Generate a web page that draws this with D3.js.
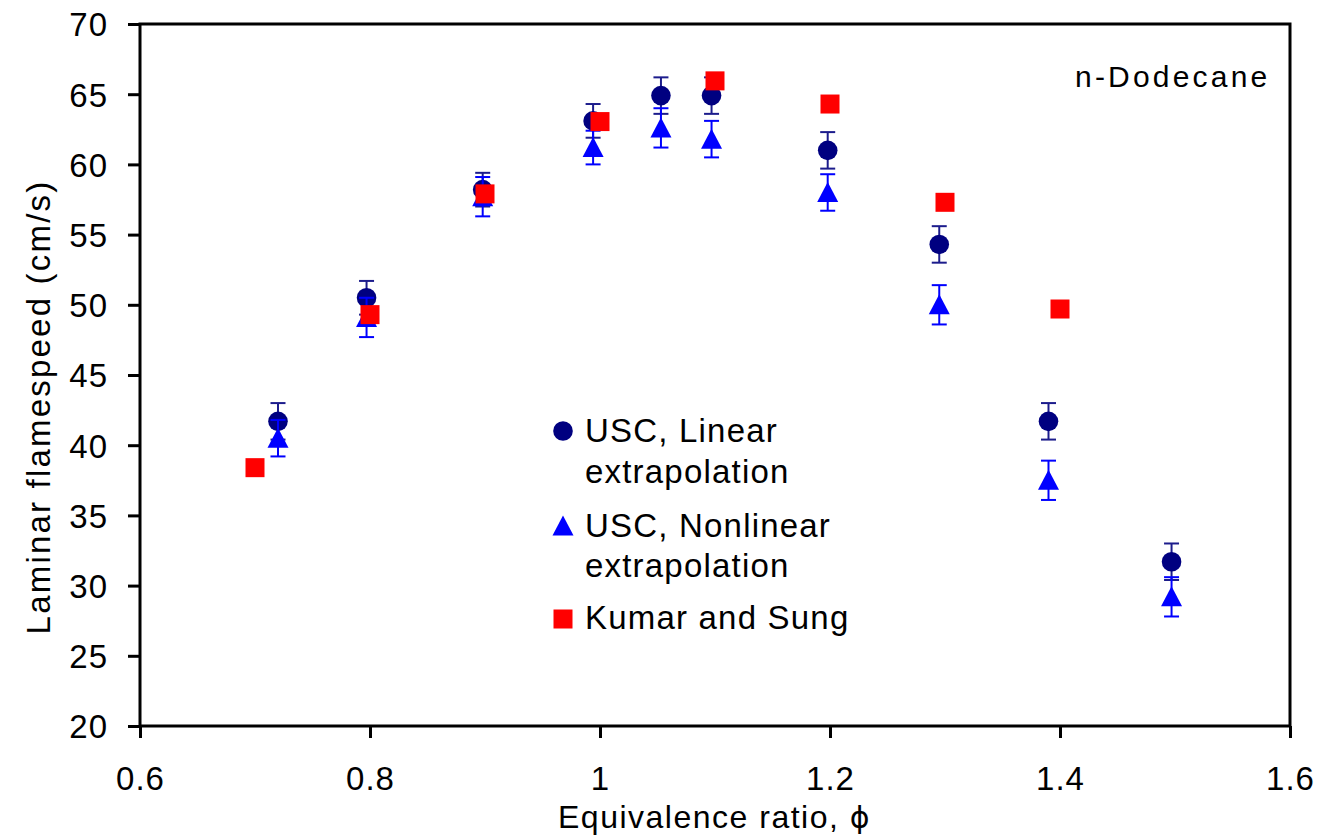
<!DOCTYPE html>
<html>
<head>
<meta charset="utf-8">
<script src="https://cdn.jsdelivr.net/npm/d3@7"></script>
<style>
  html, body { margin: 0; padding: 0; background: #fff; }
  svg { display: block; font-family: "Liberation Sans", Arial, sans-serif; }
</style>
</head>
<body>
<svg id="chart" width="1317" height="835"></svg>
<script>
// Laminar flame speed of n-dodecane vs. equivalence ratio
const phiLinear = [0.72, 0.797, 0.898, 0.994, 1.053, 1.097, 1.198, 1.295, 1.390, 1.497];
const speedLinear = [41.7, 50.5, 58.2, 63.1, 64.9, 64.9, 61.0, 54.3, 41.7, 31.7];
const errLinear = [1.3, 1.2, 1.2, 1.2, 1.3, 1.3, 1.3, 1.3, 1.3, 1.3];

const phiNonlinear = [0.72, 0.797, 0.898, 0.994, 1.053, 1.097, 1.198, 1.295, 1.390, 1.497];
const speedNonlinear = [40.5, 49.1, 57.7, 61.2, 62.6, 61.8, 58.0, 50.0, 37.5, 29.2];
const errNonlinear = [1.3, 1.4, 1.4, 1.2, 1.4, 1.3, 1.3, 1.4, 1.4, 1.4];

const phiKumar = [0.7, 0.8, 0.9, 1.0, 1.1, 1.2, 1.3, 1.4];
const speedKumar = [38.4, 49.3, 57.9, 63.05, 65.95, 64.3, 57.3, 49.7];

const xTicks = [0.6, 0.8, 1.0, 1.2, 1.4, 1.6];
const xTickLabels = ["0.6", "0.8", "1", "1.2", "1.4", "1.6"];
const yTicks = [20, 25, 30, 35, 40, 45, 50, 55, 60, 65, 70];

const legendLabels = [
  ["USC, Linear", "extrapolation"],
  ["USC, Nonlinear", "extrapolation"],
  ["Kumar and Sung"]
];

const NAVY = "#000080", BLUE = "#0000ff", RED = "#ff0000";

const svg = d3.select("#chart");
const plotLeft = 140, plotRight = 1290, plotTop = 24, plotBottom = 726;

const x = d3.scaleLinear().domain([0.6, 1.6]).range([plotLeft, plotRight]);
const y = d3.scaleLinear().domain([20, 70]).range([plotBottom, plotTop]);

// axes
const xAxis = d3.axisBottom(x).tickValues(xTicks)
  .tickFormat((d, i) => xTickLabels[i]).tickSize(12).tickSizeOuter(0).tickPadding(29);
const yAxis = d3.axisLeft(y).tickValues(yTicks)
  .tickFormat(d3.format("d")).tickSize(12).tickSizeOuter(0).tickPadding(20);

const gx = svg.append("g").attr("transform", `translate(0,${plotBottom})`).call(xAxis);
const gy = svg.append("g").attr("transform", `translate(${plotLeft},0)`).call(yAxis);

[gx, gy].forEach(g => {
  g.select(".domain").remove();
  g.selectAll(".tick line").attr("stroke", "#000").attr("stroke-width", 3);
  g.selectAll(".tick text").attr("fill", "#000")
    .style("font-size", "33px").style("letter-spacing", "1px")
    .style("font-family", "'Liberation Sans', Arial, sans-serif");
});
gy.selectAll(".tick text").attr("dy", "0.36em");
gx.selectAll(".tick text").attr("dy", "0.71em");

// plot frame
svg.append("rect")
  .attr("x", plotLeft).attr("y", plotTop)
  .attr("width", plotRight - plotLeft).attr("height", plotBottom - plotTop)
  .attr("fill", "none").attr("stroke", "#000").attr("stroke-width", 3);

// axis titles
svg.append("text")
  .attr("x", 558).attr("y", 828)
  .style("font-size", "32px").style("letter-spacing", "1.5px")
  .text("Equivalence ratio, ")
  .append("tspan").style("font-family", "'DejaVu Sans'").style("font-size", "30px").text("ϕ");

svg.append("text")
  .attr("transform", "translate(50,407) rotate(-90)")
  .attr("text-anchor", "middle")
  .style("font-size", "33px").style("letter-spacing", "2.2px")
  .text("Laminar flamespeed (cm/s)");

svg.append("text")
  .attr("x", 1075).attr("y", 87)
  .style("font-size", "30px").style("letter-spacing", "3.2px")
  .text("n-Dodecane");

// error bars
function errorBars(phis, vals, errs, color) {
  const g = svg.append("g").attr("stroke", color).attr("stroke-width", 2).attr("fill", "none");
  phis.forEach((p, i) => {
    const cx = x(p), y0 = y(vals[i] - errs[i]), y1 = y(vals[i] + errs[i]);
    g.append("line").attr("x1", cx).attr("x2", cx).attr("y1", y0).attr("y2", y1);
    g.append("line").attr("x1", cx - 7.5).attr("x2", cx + 7.5).attr("y1", y0).attr("y2", y0);
    g.append("line").attr("x1", cx - 7.5).attr("x2", cx + 7.5).attr("y1", y1).attr("y2", y1);
  });
}

const triPath = "M0,-10.5L10.5,9.5L-10.5,9.5Z";

// USC linear extrapolation
errorBars(phiLinear, speedLinear, errLinear, "#1c1c8c");
svg.append("g").selectAll("circle").data(phiLinear).join("circle")
  .attr("cx", d => x(d)).attr("cy", (d, i) => y(speedLinear[i]))
  .attr("r", 9.8).attr("fill", NAVY);

// USC nonlinear extrapolation
errorBars(phiNonlinear, speedNonlinear, errNonlinear, BLUE);
svg.append("g").selectAll("path").data(phiNonlinear).join("path")
  .attr("d", triPath)
  .attr("transform", (d, i) => `translate(${x(d)},${y(speedNonlinear[i])})`)
  .attr("fill", BLUE);

// Kumar and Sung
svg.append("g").selectAll("rect").data(phiKumar).join("rect")
  .attr("x", d => x(d) - 9.5).attr("y", (d, i) => y(speedKumar[i]) - 9.5)
  .attr("width", 19).attr("height", 19).attr("fill", RED);

// legend
const leg = svg.append("g");
leg.append("circle").attr("cx", 563).attr("cy", 431).attr("r", 9.8).attr("fill", NAVY);
leg.append("path").attr("d", triPath).attr("transform", "translate(563,526)").attr("fill", BLUE);
leg.append("rect").attr("x", 553.5).attr("y", 609.5).attr("width", 19).attr("height", 19).attr("fill", RED);

const legBaselines = [[442, 483], [537, 577], [629]];
legendLabels.forEach((lines, i) => {
  lines.forEach((t, j) => {
    leg.append("text")
      .attr("x", 585).attr("y", legBaselines[i][j])
      .style("font-size", "33px").style("letter-spacing", "1.2px")
      .text(t);
  });
});
</script>
</body>
</html>
